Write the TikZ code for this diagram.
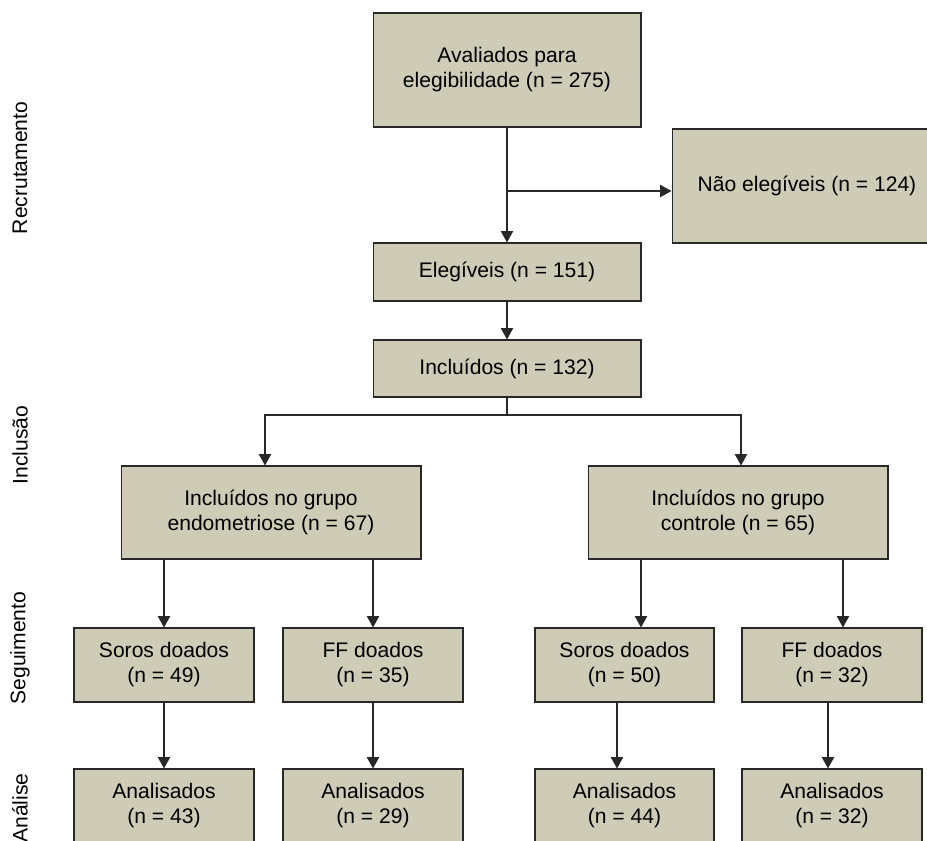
\documentclass[tikz,border=0pt]{standalone}
\usepackage{fontspec}
\setmainfont{Liberation Sans}
\usetikzlibrary{arrows.meta}
\definecolor{boxfill}{RGB}{206,204,183}
\definecolor{lncol}{RGB}{40,40,40}
\tikzset{
  box/.style={draw=lncol, fill=boxfill, rectangle, align=center, inner sep=0pt, line width=0.6pt},
  phase/.style={rotate=90, inner sep=0pt}
}
\begin{document}
\begin{tikzpicture}[x=0.02cm, y=-0.02cm, >={Triangle[length=6.5pt,width=7pt]}, font=\fontsize{12}{14.2}\selectfont]
\useasboundingbox (0,0) rectangle (927,840);
% phases
\node[phase] (recr) at (20,168) {Recrutamento};
\node[phase] (inc) at (20,445) {Inclusão};
\node[phase] (seg) at (20,648) {Seguimento};
\node[phase] (anl) at (20,808) {Análise};
% boxes
\node[box, minimum width=5.36cm, minimum height=2.28cm] (aval) at (507,70) {Avaliados para\\elegibilidade (n = 275)};
\node[box, minimum width=5.4cm, minimum height=2.28cm] (nao) at (807,186) {Não elegíveis (n = 124)};
\node[box, minimum width=5.36cm, minimum height=1.16cm] (eleg) at (507,272) {Elegíveis (n = 151)};
\node[box, minimum width=5.36cm, minimum height=1.14cm] (incl) at (507,368.5) {Incluídos (n = 132)};
\node[box, minimum width=6cm, minimum height=1.86cm] (endo) at (271,512.5) {Incluídos no grupo\\endometriose (n = 67)};
\node[box, minimum width=6cm, minimum height=1.86cm] (ctrl) at (738,512.5) {Incluídos no grupo\\controle (n = 65)};
\node[box, minimum width=3.6cm, minimum height=1.48cm] (sorosE) at (164,665) {Soros doados\\(n = 49)};
\node[box, minimum width=3.6cm, minimum height=1.48cm] (ffE) at (373,665) {FF doados\\(n = 35)};
\node[box, minimum width=3.58cm, minimum height=1.48cm] (sorosC) at (624.5,665) {Soros doados\\(n = 50)};
\node[box, minimum width=3.6cm, minimum height=1.48cm] (ffC) at (832,665) {FF doados\\(n = 32)};
\node[box, minimum width=3.6cm, minimum height=1.48cm] (anaSE) at (164,806) {Analisados\\(n = 43)};
\node[box, minimum width=3.6cm, minimum height=1.48cm] (anaFE) at (373,806) {Analisados\\(n = 29)};
\node[box, minimum width=3.58cm, minimum height=1.48cm] (anaSC) at (624.5,806) {Analisados\\(n = 44)};
\node[box, minimum width=3.6cm, minimum height=1.48cm] (anaFC) at (832,806) {Analisados\\(n = 32)};
% connectors
\coordinate (split) at (507,191);
\coordinate (br) at (507,415);
\begin{scope}[draw=lncol, line width=0.7pt]
\draw[->] (aval) -- (eleg);
\draw[->] (split) -- (split -| nao.west);
\draw[->] (eleg) -- (incl);
\draw (incl) -- (br);
\draw[->] (br) -| ([xshift=-0.12cm]endo.north);
\draw[->] (br) -| ([xshift=0.06cm]ctrl.north);
\draw[->] (endo.south -| sorosE.north) -- (sorosE.north);
\draw[->] (endo.south -| ffE.north) -- (ffE.north);
\draw[->] ([xshift=-1.94cm]ctrl.south) -- ([xshift=-1.94cm]ctrl.south |- sorosC.north);
\draw[->] ([xshift=2.1cm]ctrl.south) -- ([xshift=2.1cm]ctrl.south |- ffC.north);
\draw[->] (sorosE) -- (anaSE);
\draw[->] (ffE) -- (anaFE);
\draw[->] ([xshift=-0.15cm]sorosC.south) -- ([xshift=-0.15cm]sorosC.south |- anaSC.north);
\draw[->] ([xshift=-0.08cm]ffC.south) -- ([xshift=-0.08cm]ffC.south |- anaFC.north);
\end{scope}
\end{tikzpicture}
\end{document}
